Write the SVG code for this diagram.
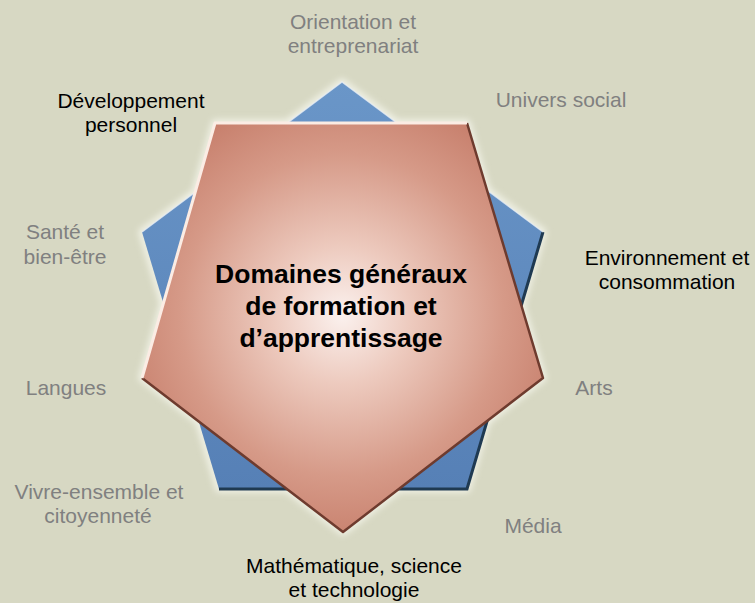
<svg xmlns="http://www.w3.org/2000/svg" width="755" height="603" viewBox="0 0 755 603">
<style>
.lbl{font-family:"Liberation Sans",Arial,sans-serif;font-size:21px;text-anchor:middle}
.g{fill:#808080}
.k{fill:#000}
.ctr{font-family:"Liberation Sans",Arial,sans-serif;font-size:26.5px;font-weight:bold;text-anchor:middle;fill:#000}
</style>
<defs>
<radialGradient id="pinkGrad" cx="342" cy="315" r="230" gradientUnits="userSpaceOnUse">
<stop offset="0" stop-color="#FBF1EE"/>
<stop offset="0.3" stop-color="#EDCABE"/>
<stop offset="0.7" stop-color="#D69A88"/>
<stop offset="1" stop-color="#C77F6C"/>
</radialGradient>
<linearGradient id="blueGrad" x1="0" y1="0" x2="0" y2="1">
<stop offset="0" stop-color="#6A96C8"/>
<stop offset="1" stop-color="#5680B6"/>
</linearGradient>
<filter id="halo" x="-10%" y="-10%" width="120%" height="120%">
<feGaussianBlur stdDeviation="3"/>
</filter>
</defs>
<rect width="755" height="603" fill="#D7D8C3"/>

<g id="star-shape">
<g filter="url(#halo)" fill="none" stroke="#F1F2E6" stroke-width="7" stroke-linejoin="round">
<polygon points="342,82 142,232 219,489 467,489 543,232"/>
<polygon points="215,123 467,123 543,378 343,532 142,378"/>
</g>
<polygon points="342,82 142,232 219,489 467,489 543,232" fill="url(#blueGrad)"/>
<polyline points="219,489 467,489 543,232" fill="none" stroke="#1F3A52" stroke-width="3"/>
<polyline points="142,232 342,82 543,232" fill="none" stroke="#E8EEF4" stroke-width="1.5" opacity="0.8"/>
<polygon points="215,123 467,123 543,378 343,532 142,378" fill="url(#pinkGrad)"/>
<polyline points="467,123 543,378 343,532 142,378" fill="none" stroke="#6E3B2E" stroke-width="2.5" stroke-linejoin="round"/>
<polyline points="142,378 215,123 467,123" fill="none" stroke="#FBECE4" stroke-width="3" stroke-linejoin="round"/>
</g>

<g id="center">
<text class="ctr" x="341" y="283">Domaines généraux</text>
<text class="ctr" x="341" y="315">de formation et</text>
<text class="ctr" x="341" y="347">d’apprentissage</text>
</g>

<g id="orientation"><text class="lbl g" x="353" y="29">Orientation et</text><text class="lbl g" x="353" y="53">entreprenariat</text></g>
<g id="developpement"><text class="lbl k" x="131" y="108">Développement</text><text class="lbl k" x="131" y="132">personnel</text></g>
<g id="univers"><text class="lbl g" x="561" y="107">Univers social</text></g>
<g id="sante"><text class="lbl g" x="65" y="239">Santé et</text><text class="lbl g" x="65" y="264">bien-être</text></g>
<g id="environnement"><text class="lbl k" x="667" y="265">Environnement et</text><text class="lbl k" x="667" y="289">consommation</text></g>
<g id="langues"><text class="lbl g" x="66" y="395">Langues</text></g>
<g id="arts"><text class="lbl g" x="594" y="395">Arts</text></g>
<g id="vivre"><text class="lbl g" x="99" y="499">Vivre-ensemble et</text><text class="lbl g" x="98" y="523">citoyenneté</text></g>
<g id="media"><text class="lbl g" x="533" y="533">Média</text></g>
<g id="maths"><text class="lbl k" x="354" y="573">Mathématique, science</text><text class="lbl k" x="354" y="597">et technologie</text></g>
<g id="connectors"></g>
</svg>
